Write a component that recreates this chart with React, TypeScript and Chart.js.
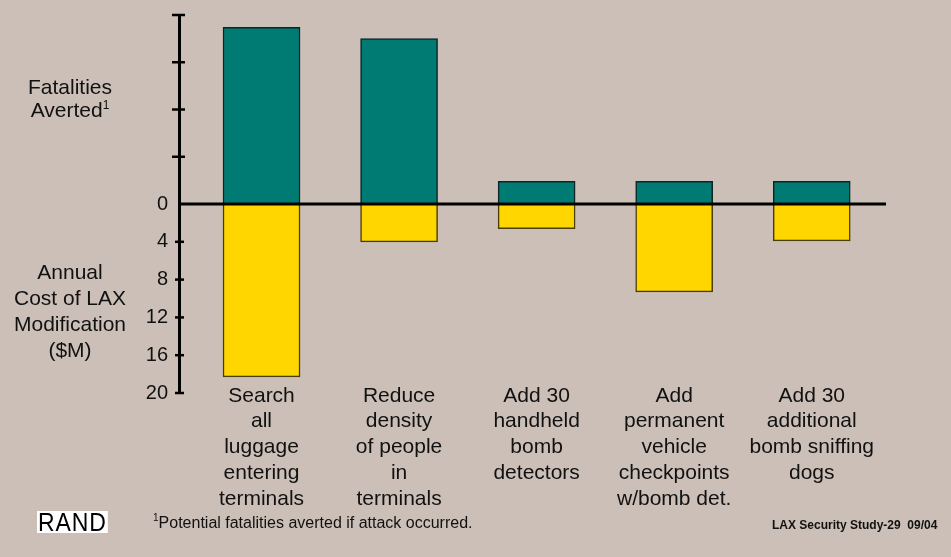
import React, { useEffect, useRef } from "react";
import { Chart, registerables } from "chart.js";

Chart.register(...registerables);

// ---- Data ----
const categories: string[][] = [
  ["Search", "all", "luggage", "entering", "terminals"],
  ["Reduce", "density", "of people", "in", "terminals"],
  ["Add 30", "handheld", "bomb", "detectors"],
  ["Add", "permanent", "vehicle", "checkpoints", "w/bomb det."],
  ["Add 30", "additional", "bomb sniffing", "dogs"],
];
const fatalitiesAverted = [18.7, 17.5, 2.4, 2.4, 2.4];
const annualCostM = [18.3, 4.0, 2.6, 9.3, 3.9];
const costTicks = [0, 4, 8, 12, 16, 20];
const fatalityTicks = [5, 10, 15, 20];

const FONT = "'Liberation Sans', Arial, Helvetica, sans-serif";
const BG = "#CBBFB7";
const GREEN = "#007B73";
const YELLOW = "#FFD600";

export default function App() {
  const ref = useRef<HTMLCanvasElement>(null);

  useEffect(() => {
    if (!ref.current) return;

    const axisPlugin = {
      id: "crossTicksAndZero",
      afterDatasetsDraw(chart: any) {
        const y = chart.scales.y;
        const ctx = chart.ctx;
        const { left, right } = chart.chartArea;
        ctx.save();
        ctx.strokeStyle = "#000";
        const y0 = y.getPixelForValue(0);
        ctx.lineWidth = 3;
        ctx.beginPath();
        ctx.moveTo(left, y0);
        ctx.lineTo(right, y0);
        ctx.stroke();
        ctx.lineWidth = 2.5;
        y.ticks.forEach((t: any) => {
          if (t.value === 0) return;
          const py = y.getPixelForValue(t.value);
          const up = t.value > 0;
          ctx.beginPath();
          ctx.moveTo(left - (up ? 7 : 4), py);
          ctx.lineTo(left + (up ? 6 : 5), py);
          ctx.stroke();
        });
        ctx.restore();
      },
      afterDraw(chart: any) {
        // multi-line category labels under the bars (drawn unclipped)
        const x = chart.scales.x;
        const ctx = chart.ctx;
        ctx.save();
        ctx.fillStyle = "#111";
        ctx.font = `21px ${FONT}`;
        ctx.textAlign = "center";
        ctx.textBaseline = "middle";
        categories.forEach((lines, i) => {
          const px = x.getPixelForValue(i);
          lines.forEach((line, k) => {
            ctx.fillText(line, px, x.top + 3 + k * 25.7);
          });
        });
        ctx.restore();
      },
    };

    const chart = new Chart(ref.current, {
      type: "bar",
      data: {
        datasets: [
          {
            label: "Fatalities Averted",
            data: fatalitiesAverted.map((v, i) => ({ x: i, y: v })),
            backgroundColor: GREEN,
            borderColor: "#0d2624",
            borderWidth: 1.5,
            barThickness: 77,
          },
          {
            label: "Annual Cost of LAX Modification ($M)",
            data: annualCostM.map((v, i) => ({ x: i, y: -v })),
            backgroundColor: YELLOW,
            borderColor: "#4a3d00",
            borderWidth: 1.5,
            barThickness: 77,
          },
        ],
      },
      options: {
        responsive: false,
        animation: false,
        devicePixelRatio: 1,
        layout: { padding: { top: 1, right: 65, left: 0, bottom: 0 } },
        plugins: { legend: { display: false }, tooltip: { enabled: false } },
        scales: {
          x: {
            type: "linear",
            offset: false,
            min: -0.6,
            max: 4.54,
            stacked: true,
            grid: { display: false, offset: false },
            border: { display: false },
            afterBuildTicks: (s: any) => {
              s.ticks = categories.map((_, i) => ({ value: i }));
            },
            afterFit: (s: any) => {
              s.height = 164;
            },
            ticks: { display: false },
          },
          y: {
            min: -20,
            max: 20,
            stacked: true,
            grid: { display: false },
            border: { display: true, color: "#000", width: 3 },
            afterBuildTicks: (s: any) => {
              const vals = [...costTicks.map((v) => -v), ...fatalityTicks].sort((a, b) => a - b);
              s.ticks = vals.map((v) => ({ value: v }));
            },
            afterFit: (s: any) => {
              s.width = 179;
            },
            ticks: {
              padding: 3,
              color: "#111",
              font: { family: FONT, size: 20 },
              callback: (v: any) => ((v as number) <= 0 ? String(-(v as number)) : ""),
            },
          },
        },
      },
      plugins: [axisPlugin],
    } as any);

    return () => chart.destroy();
  }, []);

  const txt: React.CSSProperties = {
    position: "absolute",
    fontFamily: FONT,
    color: "#111",
    whiteSpace: "nowrap",
  };

  return (
    <div
      style={{
        position: "fixed",
        left: 0,
        top: 0,
        width: 951,
        height: 557,
        background: BG,
        overflow: "hidden",
      }}
    >
      <canvas ref={ref} width={951} height={557} style={{ position: "absolute", left: 0, top: 0 }} />
      <div style={{ ...txt, left: 0, width: 140, top: 75, textAlign: "center", fontSize: 21, lineHeight: "23px" }}>
        Fatalities
        <br />
        Averted<sup style={{ fontSize: 12, verticalAlign: "top", lineHeight: "14px" }}>1</sup>
      </div>
      <div style={{ ...txt, left: 0, width: 140, top: 259, textAlign: "center", fontSize: 21, lineHeight: "26px" }}>
        Annual
        <br />
        Cost of LAX
        <br />
        Modification
        <br />
        ($M)
      </div>
      <div
        style={{
          ...txt,
          left: 37,
          top: 511,
          background: "#fff",
          color: "#000",
          fontSize: 25,
          lineHeight: "22px",
          letterSpacing: 1,
          padding: "0 1px",
          transform: "scaleX(0.92)",
          transformOrigin: "left center",
        }}
      >
        RAND
      </div>
      <div style={{ ...txt, left: 153, top: 513, fontSize: 16, lineHeight: "19px" }}>
        <sup style={{ fontSize: 10, verticalAlign: "top", lineHeight: "10px" }}>1</sup>Potential fatalities averted if attack occurred.
      </div>
      <div style={{ ...txt, left: 772, top: 518, fontSize: 12, fontWeight: "bold", lineHeight: "15px" }}>
        LAX Security Study-29&nbsp;&nbsp;09/04
      </div>
    </div>
  );
}
